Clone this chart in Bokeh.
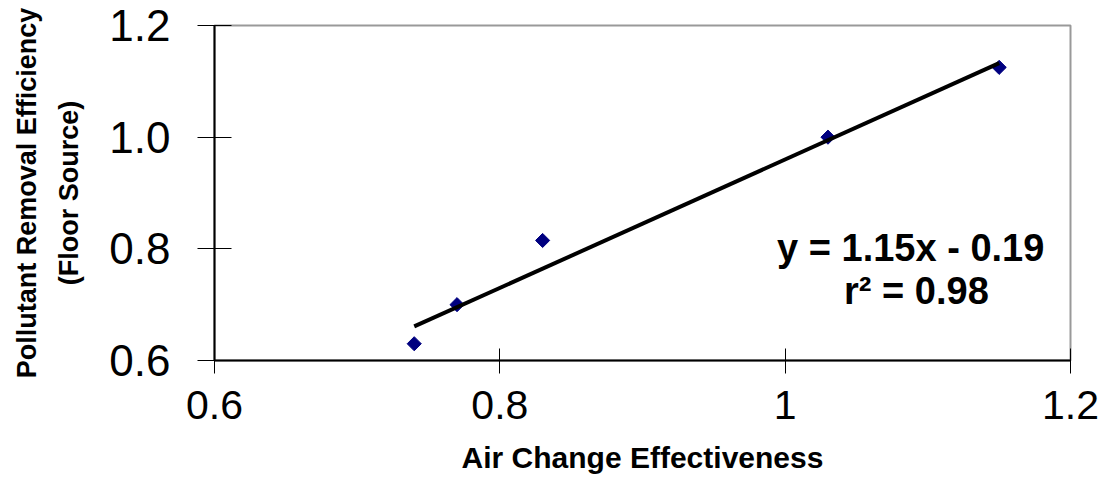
import numpy as np
from bokeh.plotting import figure
from bokeh.models import Range1d, FixedTicker, Label
from bokeh.embed import file_html
from bokeh.resources import INLINE

# ---- data ----
air_change_eff = [0.74, 0.77, 0.83, 1.03, 1.15]
pollutant_rem_eff = [0.63, 0.70, 0.815, 1.00, 1.125]
fit_slope = 1.15
fit_intercept = -0.19
fit_r2 = 0.98
x_ticks = [0.6, 0.8, 1.0, 1.2]
x_tick_labels = ["0.6", "0.8", "1", "1.2"]
y_ticks = [0.6, 0.8, 1.0, 1.2]
y_tick_labels = ["0.6", "0.8", "1.0", "1.2"]

FONT = "Liberation Sans"

p = figure(width=1099, height=483, output_backend="svg", toolbar_location=None,
           x_range=Range1d(0.6, 1.2), y_range=Range1d(0.6, 1.2),
           min_border_left=214, min_border_right=29,
           min_border_top=25, min_border_bottom=123)
p.grid.visible = False
p.background_fill_color = "white"
p.border_fill_color = "white"
p.outline_line_color = "#999999"
p.outline_line_width = 2

# x axis
xa = p.xaxis[0]
xa.ticker = FixedTicker(ticks=x_ticks, minor_ticks=[])
xa.major_label_overrides = dict(zip(x_ticks, x_tick_labels))
xa.axis_line_color = "black"
xa.axis_line_width = 2
xa.major_tick_line_color = "black"
xa.major_tick_in = 12
xa.major_tick_out = 13
xa.minor_tick_line_color = None
xa.major_label_text_font = FONT
xa.major_label_text_font_size = "41px"
xa.major_label_text_color = "black"
xa.major_label_standoff = 17
xa.axis_label = "Air Change Effectiveness"
xa.axis_label_text_font = FONT
xa.axis_label_text_font_size = "30px"
xa.axis_label_text_font_style = "bold"
xa.axis_label_text_color = "black"
xa.axis_label_standoff = 19

# y axis
ya = p.yaxis[0]
ya.ticker = FixedTicker(ticks=y_ticks, minor_ticks=[])
ya.major_label_overrides = dict(zip(y_ticks, y_tick_labels))
ya.axis_line_color = "black"
ya.axis_line_width = 2
ya.major_tick_line_color = "black"
ya.major_tick_in = 17
ya.major_tick_out = 17
ya.minor_tick_line_color = None
ya.major_label_text_font = FONT
ya.major_label_text_font_size = "44px"
ya.major_label_text_color = "black"
ya.major_label_standoff = 27
ya.axis_label = "Pollutant Removal Efficiency\n(Floor Source)"
ya.axis_label_text_font = FONT
ya.axis_label_text_font_size = "27px"
ya.axis_label_text_font_style = "bold"
ya.axis_label_text_color = "black"
ya.axis_label_text_line_height = 1.4
ya.axis_label_standoff = 22

# data points
p.scatter(air_change_eff, pollutant_rem_eff, marker="square", size=10,
          angle=np.pi / 4, fill_color="#000080", line_color="#000080")

# trend line (from displayed regression equation)
fx = np.array([min(air_change_eff), max(air_change_eff)])
fy = fit_slope * fx + fit_intercept
p.line(fx, fy, line_color="black", line_width=4)

eq_text = f"y = {fit_slope:.2f}x - {abs(fit_intercept):.2f}"
r2_text = f"r\u00b2 = {fit_r2:.2f}"
p.add_layout(Label(x=1.088, y=0.8023, text=eq_text, text_font=FONT,
                   text_font_size="38px", text_font_style="bold",
                   text_align="center", text_baseline="alphabetic",
                   text_color="black"))
p.add_layout(Label(x=1.092, y=0.7253, text=r2_text, text_font=FONT,
                   text_font_size="38px", text_font_style="bold",
                   text_align="center", text_baseline="alphabetic",
                   text_color="black"))

open("out.html", "w").write(file_html(p, INLINE))
